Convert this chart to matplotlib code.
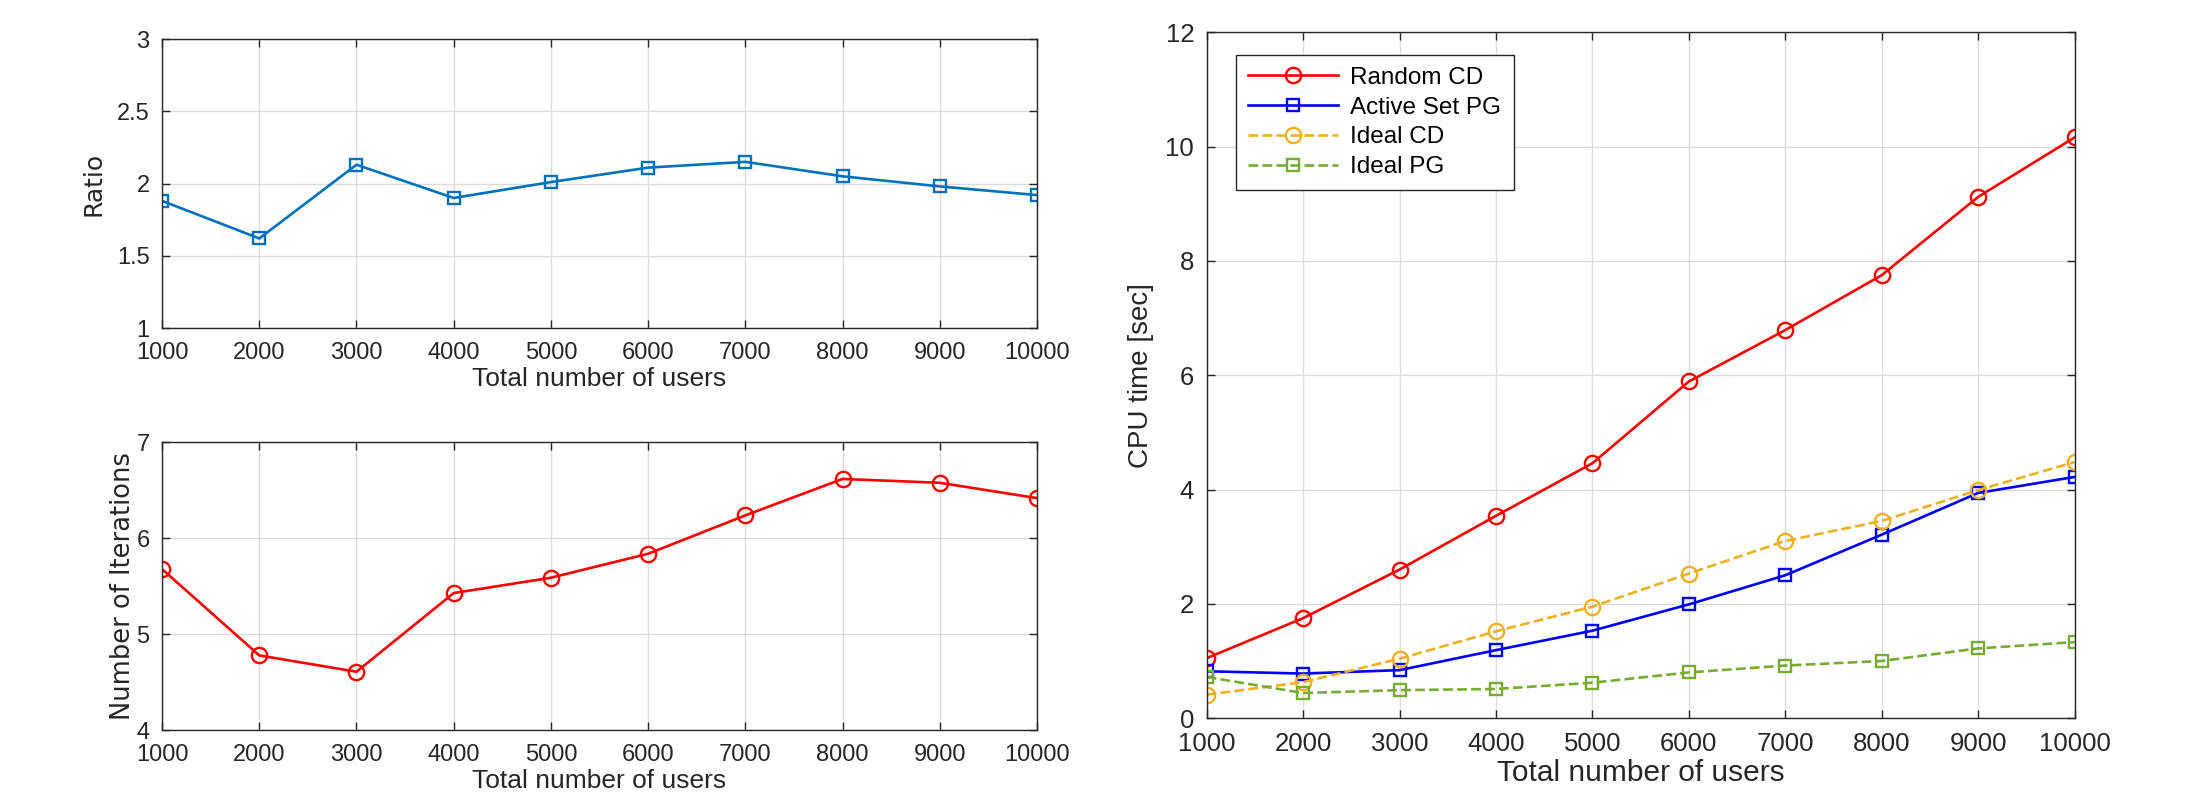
import numpy as np
import matplotlib
matplotlib.use('Agg')
import matplotlib.pyplot as plt

plt.rcParams['font.family'] = ['Liberation Sans', 'DejaVu Sans']

# data
users = [1000, 2000, 3000, 4000, 5000, 6000, 7000, 8000, 9000, 10000]
x_ticks = [1000, 2000, 3000, 4000, 5000, 6000, 7000, 8000, 9000, 10000]

ratio = [1.88, 1.62, 2.13, 1.90, 2.01, 2.11, 2.15, 2.05, 1.98, 1.92]
iterations = [5.68, 4.78, 4.61, 5.43, 5.59, 5.84, 6.24, 6.62, 6.58, 6.42]

random_cd = [1.05, 1.75, 2.60, 3.54, 4.46, 5.89, 6.79, 7.75, 9.12, 10.16]
active_set_pg = [0.82, 0.78, 0.84, 1.19, 1.53, 1.99, 2.50, 3.21, 3.94, 4.22]
ideal_cd = [0.41, 0.63, 1.04, 1.52, 1.95, 2.53, 3.10, 3.45, 3.99, 4.48]
ideal_pg = [0.72, 0.44, 0.49, 0.51, 0.62, 0.80, 0.92, 1.00, 1.22, 1.33]

fig = plt.figure(figsize=(21.9, 8.06), dpi=100)

def matlab_style(ax, yticks, ylim, size):
    ax.set_xlim(1000, 10000)
    ax.set_ylim(*ylim)
    ax.set_xticks(x_ticks)
    ax.set_yticks(yticks)
    ax.grid(True, color='#dcdcdc', linewidth=1.0)
    ax.set_axisbelow(True)
    ax.tick_params(direction='in', top=True, right=True, length=6, width=1,
                   labelsize=size, colors='#262626')
    ax.tick_params(axis='x', pad=10)
    ax.tick_params(axis='y', pad=9)
    for s in ax.spines.values():
        s.set_color('#262626')
        s.set_linewidth(1.0)

# Ratio
ax1 = fig.add_axes([0.074, 0.593, 0.3995, 0.3586])
ax1.plot(users, ratio, color='#0072BD', marker='s', markersize=8.5, mfc='none',
         mew=1.7, linewidth=1.9)
matlab_style(ax1, [1, 1.5, 2, 2.5, 3], (1, 3), 17)
ax1.set_yticklabels(['1', '1.5', '2', '2.5', '3'])
ax1.set_xlabel('Total number of users', fontsize=19, color='#262626', labelpad=2)
ax1.set_ylabel('Ratio', fontsize=18, color='#262626', family='DejaVu Sans', labelpad=8)

# Number of iterations
ax2 = fig.add_axes([0.074, 0.094, 0.3995, 0.357])
ax2.plot(users, iterations, color='red', marker='o', markersize=11, mfc='none',
         mew=1.7, linewidth=1.9)
matlab_style(ax2, [4, 5, 6, 7], (4, 7), 17)
ax2.set_xlabel('Total number of users', fontsize=19, color='#262626', labelpad=2)
ax2.set_ylabel('Number of Iterations', fontsize=18.5, color='#262626', family='DejaVu Sans',
               labelpad=0)

# CPU time
ax3 = fig.add_axes([0.551, 0.109, 0.3963, 0.851])
ax3.plot(users, random_cd, color='red', marker='o', markersize=11, mfc='none',
         mew=1.7, linewidth=1.9, label='Random CD')
ax3.plot(users, active_set_pg, color='blue', marker='s', markersize=8.5, mfc='none',
         mew=1.7, linewidth=1.9, label='Active Set PG')
ax3.plot(users, ideal_cd, color='#EDB120', marker='o', markersize=11, mfc='none',
         mew=1.7, linewidth=1.9, linestyle='--', label='Ideal CD')
ax3.plot(users, ideal_pg, color='#77AC30', marker='s', markersize=8.5, mfc='none',
         mew=1.7, linewidth=1.9, linestyle='--', label='Ideal PG')
matlab_style(ax3, [0, 2, 4, 6, 8, 10, 12], (0, 12), 18.5)
ax3.set_xlabel('Total number of users', fontsize=21.5, color='#262626', labelpad=2)
ax3.set_ylabel('CPU time [sec]', fontsize=20, color='#262626', labelpad=8)
leg = ax3.legend(loc='upper left', fontsize=17.5, fancybox=False, framealpha=1,
                 edgecolor='#262626', handlelength=3.7, borderpad=0.5,
                 labelspacing=0.32, handletextpad=0.5, bbox_to_anchor=(0.02, 0.985))
leg.get_frame().set_linewidth(1.0)

fig.savefig('out.png', dpi=100)
